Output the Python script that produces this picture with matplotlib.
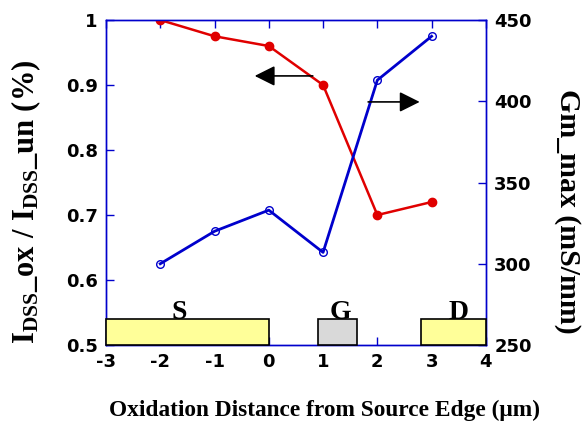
import matplotlib
matplotlib.use("Agg")
import matplotlib.pyplot as plt
from matplotlib.patches import Rectangle

# Data
x_pos = [-2, -1, 0, 1, 2, 3]
idss_ratio = [1.0, 0.975, 0.96, 0.90, 0.70, 0.72]
gm_max = [300, 320, 333, 307, 413, 440]

x_ticks = [-3, -2, -1, 0, 1, 2, 3, 4]
y_left_ticks = [0.5, 0.6, 0.7, 0.8, 0.9, 1.0]
y_left_labels = ["0.5", "0.6", "0.7", "0.8", "0.9", "1"]
y_right_ticks = [250, 300, 350, 400, 450]

electrodes = ["S", "G", "D"]
electrode_start = [-3.0, 0.9, 2.8]
electrode_end = [0.0, 1.62, 4.0]
electrode_label_x = [-1.65, 1.32, 3.5]
electrode_colors = ["#FFFF99", "#D9D9D9", "#FFFF99"]

plt.rcParams['mathtext.fontset'] = 'custom'
plt.rcParams['mathtext.rm'] = 'Liberation Serif:bold'
plt.rcParams['mathtext.it'] = 'Liberation Serif:bold'
plt.rcParams['mathtext.bf'] = 'Liberation Serif:bold'

fig = plt.figure(figsize=(5.84, 4.38), dpi=100)
ax = fig.add_axes([0.1815, 0.2123, 0.6505, 0.7420])
ax2 = ax.twinx()

red = "#E00000"
blue = "#0000CC"

ax.plot(x_pos, idss_ratio, color=red, lw=1.8, marker='o', ms=6, mfc=red, mec=red, zorder=3)
ax2.plot(x_pos, gm_max, color=blue, lw=2.0, marker='o', ms=5.5, mfc='none', mec=blue, mew=1.0, zorder=3)

ax.set_xlim(-3, 4)
ax.set_ylim(0.5, 1.0)
ax2.set_ylim(250, 450)

ax.set_xticks(x_ticks)
ax.set_xticklabels([str(t) for t in x_ticks])
ax.set_yticks(y_left_ticks)
ax.set_yticklabels(y_left_labels)
ax2.set_yticks(y_right_ticks)
ax2.set_yticklabels([str(t) for t in y_right_ticks])

for lab in ax.get_xticklabels() + ax.get_yticklabels() + ax2.get_yticklabels():
    lab.set_fontfamily('DejaVu Sans')
    lab.set_fontweight('bold')
    lab.set_fontsize(13)

ax.tick_params(axis='both', direction='in', length=6, width=1, color=blue, top=True)
ax.tick_params(axis='x', pad=6)
ax.tick_params(axis='y', pad=6)
ax2.tick_params(axis='y', direction='in', length=6, width=1, color=blue, pad=6)

for a in (ax, ax2):
    for s in a.spines.values():
        s.set_color(blue)
        s.set_linewidth(1.0)

# electrodes
for name, x0, x1, lx, c in zip(electrodes, electrode_start, electrode_end, electrode_label_x, electrode_colors):
    r = Rectangle((x0, 0.5), x1 - x0, 0.04, facecolor=c, edgecolor='black', lw=1.2,
                  zorder=5, clip_on=False, transform=ax.transData)
    ax2.add_patch(r)
    ax2.text(lx, 0.5405, name, transform=ax.transData, ha='center', va='baseline',
             fontfamily='Liberation Serif', fontweight='bold', fontsize=20, zorder=6)

# arrows
arrow_kw = dict(arrowstyle='-|>,head_length=0.62,head_width=0.31', color='black', lw=1.2,
                shrinkA=0, shrinkB=0, mutation_scale=20)
ax2.annotate('', xy=(-0.26, 0.914), xytext=(0.81, 0.914), xycoords=ax.transData,
             textcoords=ax.transData, arrowprops=arrow_kw)
ax2.annotate('', xy=(2.78, 0.874), xytext=(1.83, 0.874), xycoords=ax.transData,
             textcoords=ax.transData, arrowprops=arrow_kw)

fig.text(325 / 584, 1 - 410 / 438, 'Oxidation Distance from Source Edge (μm)',
         fontfamily='Liberation Serif', fontweight='bold', fontsize=16.8,
         ha='center', va='center')
fig.text(26 / 584, 1 - 202 / 438, r'$\mathrm{I_{DSS}\_ox\ /\ I_{DSS}\_un\ (\%)}$',
         fontsize=22, rotation=90, ha='center', va='center')
fig.text(567 / 584, 1 - 211 / 438, 'Gm_max (mS/mm)', fontfamily='Liberation Serif',
         fontweight='bold', fontsize=21.5, rotation=270, ha='center', va='center')

fig.savefig('out.png', dpi=100)
